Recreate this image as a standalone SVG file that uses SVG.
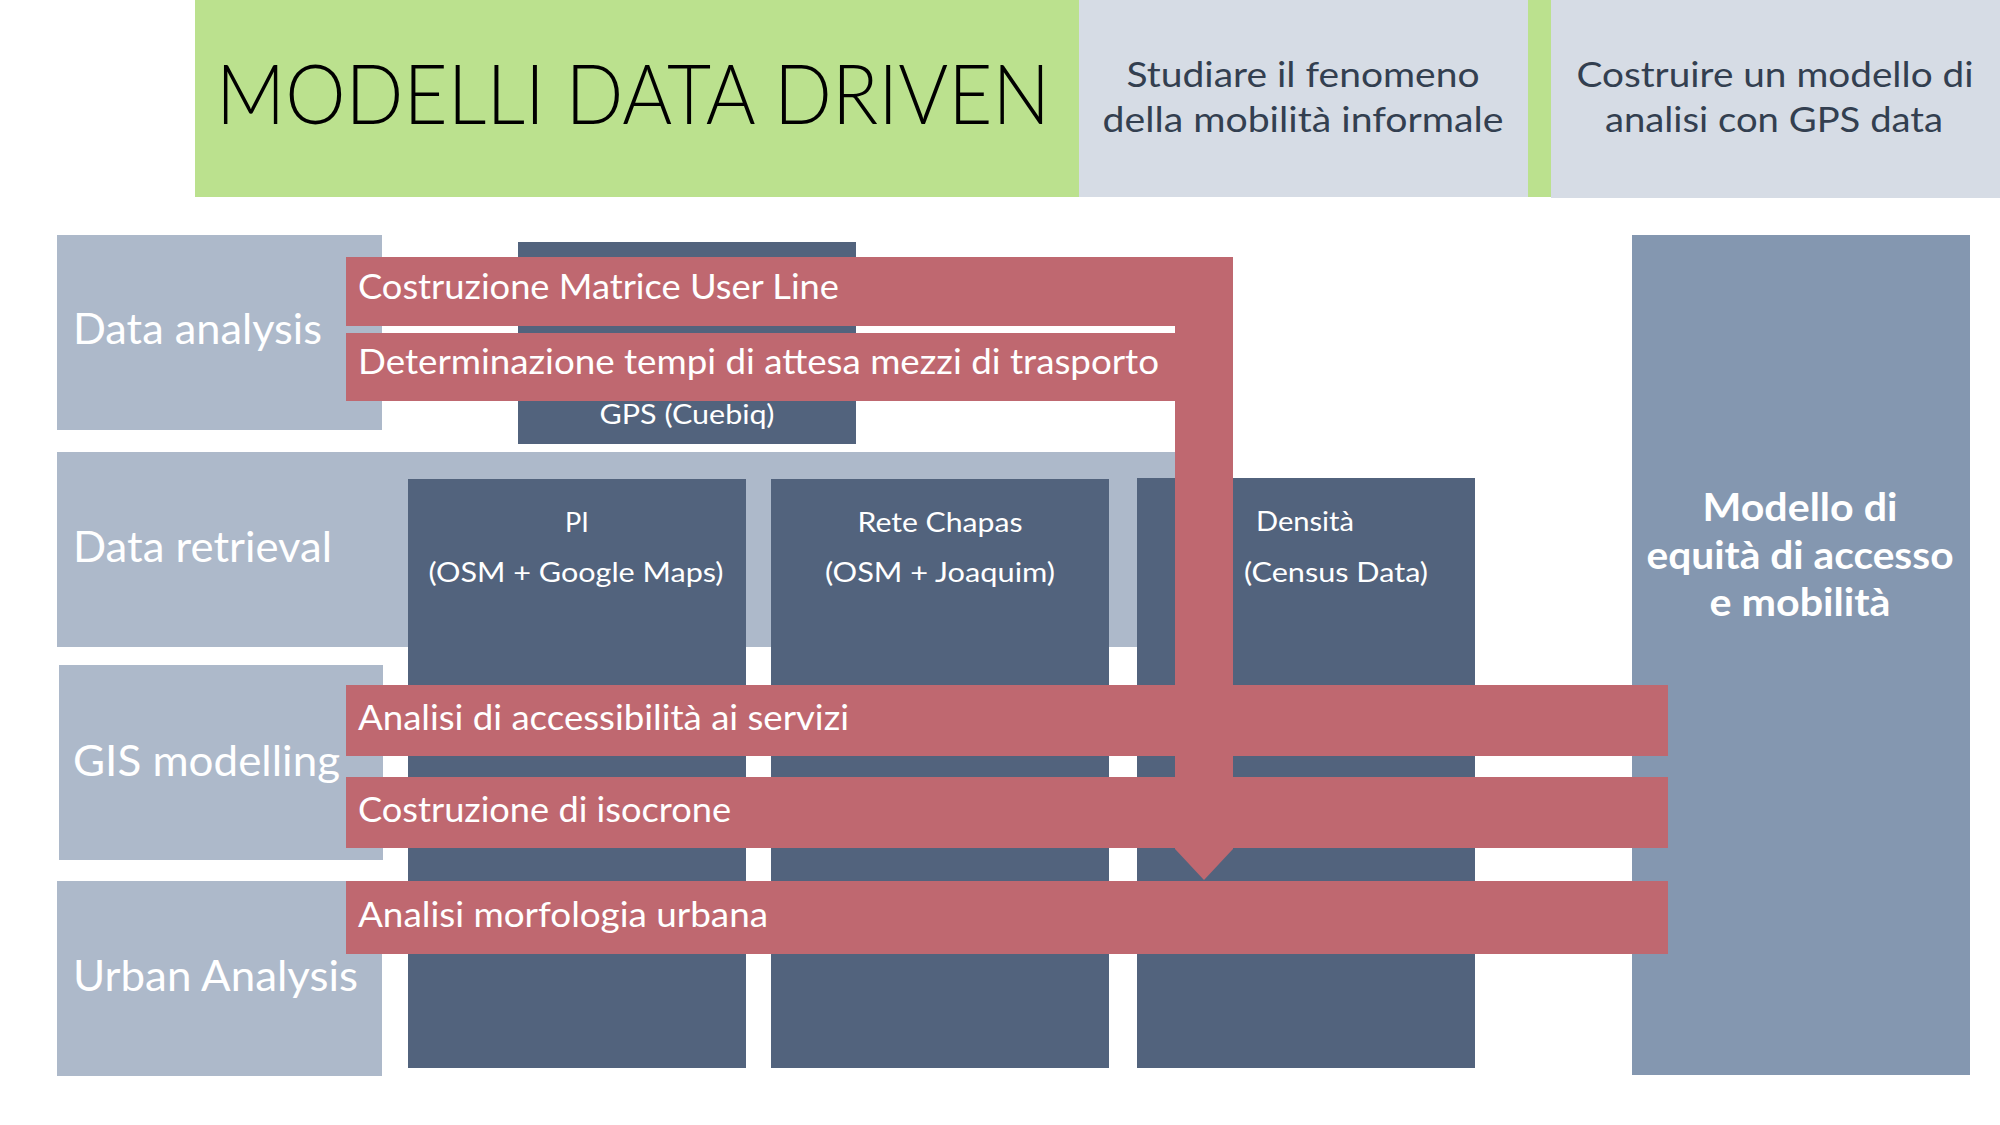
<svg xmlns="http://www.w3.org/2000/svg" width="2000" height="1125" viewBox="0 0 2000 1125">
  <style>
    text { font-family: Lato, "Open Sans", "Liberation Sans", sans-serif; }
    .hdr-green { fill: #BBE18E; }
    .hdr-grey { fill: #D6DCE5; }
    .lane { fill: #ADB9CA; }
    .src { fill: #52637D; }
    .goal { fill: #8497B0; }
    .task { fill: #BF6870; }
    .title { font-size: 82px; font-weight: 300; fill: #000000; }
    .sub { font-size: 34px; fill: #333F50; text-anchor: middle; }
    .lane-t { font-size: 42px; fill: #FFFFFF; }
    .src-t { font-size: 27px; fill: #FFFFFF; text-anchor: middle; }
    .task-t { font-size: 34px; fill: #FFFFFF; }
    .goal-t { font-size: 39px; font-weight: bold; fill: #FFFFFF; text-anchor: middle; }
  </style>

  <rect width="2000" height="1125" fill="#FFFFFF"/>

  <!-- Header band -->
  <g id="header">
    <rect class="hdr-green" x="195" y="0" width="1356" height="197"/>
    <text class="title" x="216" y="124" textLength="834" lengthAdjust="spacingAndGlyphs">MODELLI DATA DRIVEN</text>
  </g>
  <g id="goal-study">
    <rect class="hdr-grey" x="1079" y="0" width="449" height="197"/>
    <text class="sub" x="1303" y="87" textLength="353" lengthAdjust="spacingAndGlyphs">Studiare il fenomeno</text>
    <text class="sub" x="1303" y="132" textLength="401" lengthAdjust="spacingAndGlyphs">della mobilità informale</text>
  </g>
  <g id="goal-build">
    <rect class="hdr-grey" x="1551" y="0" width="449" height="198"/>
    <text class="sub" x="1775" y="87" textLength="397" lengthAdjust="spacingAndGlyphs">Costruire un modello di</text>
    <text class="sub" x="1774" y="132" textLength="338" lengthAdjust="spacingAndGlyphs">analisi con GPS data</text>
  </g>

  <!-- Row labels -->
  <g id="lane-data-analysis">
    <rect class="lane" x="57" y="235" width="325" height="195"/>
    <text class="lane-t" x="73" y="344" textLength="249" lengthAdjust="spacingAndGlyphs">Data analysis</text>
  </g>
  <g id="lane-data-retrieval">
    <rect class="lane" x="57" y="452" width="1130" height="195"/>
    <text class="lane-t" x="73" y="562" textLength="259" lengthAdjust="spacingAndGlyphs">Data retrieval</text>
  </g>
  <g id="lane-gis">
    <rect class="lane" x="59" y="665" width="324" height="195"/>
    <text class="lane-t" x="73" y="776" textLength="267" lengthAdjust="spacingAndGlyphs">GIS modelling</text>
  </g>
  <g id="lane-urban">
    <rect class="lane" x="57" y="881" width="325" height="195"/>
    <text class="lane-t" x="73" y="991" textLength="285" lengthAdjust="spacingAndGlyphs">Urban Analysis</text>
  </g>

  <!-- Data sources -->
  <g id="src-gps">
    <rect class="src" x="518" y="242" width="338" height="202"/>
    <text class="src-t" x="687" y="424" textLength="175" lengthAdjust="spacingAndGlyphs">GPS (Cuebiq)</text>
  </g>
  <g id="src-pi">
    <rect class="src" x="408" y="479" width="338" height="589"/>
    <text class="src-t" x="577" y="532">PI</text>
    <text class="src-t" x="576" y="582" textLength="295" lengthAdjust="spacingAndGlyphs">(OSM + Google Maps)</text>
  </g>
  <g id="src-chapas">
    <rect class="src" x="771" y="479" width="338" height="589"/>
    <text class="src-t" x="940" y="532" textLength="165" lengthAdjust="spacingAndGlyphs">Rete Chapas</text>
    <text class="src-t" x="940" y="582" textLength="230" lengthAdjust="spacingAndGlyphs">(OSM + Joaquim)</text>
  </g>
  <g id="src-density">
    <rect class="src" x="1137" y="478" width="338" height="590"/>
    <text class="src-t" x="1305" y="531" textLength="98" lengthAdjust="spacingAndGlyphs">Densità</text>
    <text class="src-t" x="1336" y="582" textLength="184" lengthAdjust="spacingAndGlyphs">(Census Data)</text>
  </g>

  <!-- Final model -->
  <g id="model-equity">
    <rect class="goal" x="1632" y="235" width="338" height="840"/>
    <text class="goal-t" x="1800" y="521" textLength="195" lengthAdjust="spacingAndGlyphs">Modello di</text>
    <text class="goal-t" x="1800" y="569" textLength="307" lengthAdjust="spacingAndGlyphs">equità di accesso</text>
    <text class="goal-t" x="1800" y="616" textLength="181" lengthAdjust="spacingAndGlyphs">e mobilità</text>
  </g>

  <!-- Connectors: downward flow from the analysis step -->
  <g id="connectors">
    <path class="task" d="M1175,257 H1233 V849 L1204,880 L1175,849 Z"/>
  </g>

  <!-- Processing steps -->
  <g id="task-user-line">
    <rect class="task" x="346" y="257" width="887" height="69"/>
    <text class="task-t" x="358" y="299" textLength="481" lengthAdjust="spacingAndGlyphs">Costruzione Matrice User Line</text>
  </g>
  <g id="task-waiting">
    <rect class="task" x="346" y="333" width="829" height="68"/>
    <text class="task-t" x="358" y="374" textLength="801" lengthAdjust="spacingAndGlyphs">Determinazione tempi di attesa mezzi di trasporto</text>
  </g>
  <g id="task-accessibility">
    <rect class="task" x="346" y="685" width="1322" height="71"/>
    <text class="task-t" x="358" y="730" textLength="491" lengthAdjust="spacingAndGlyphs">Analisi di accessibilità ai servizi</text>
  </g>
  <g id="task-isochrones">
    <rect class="task" x="346" y="777" width="1322" height="71"/>
    <text class="task-t" x="358" y="822" textLength="373" lengthAdjust="spacingAndGlyphs">Costruzione di isocrone</text>
  </g>
  <g id="task-morphology">
    <rect class="task" x="346" y="881" width="1322" height="73"/>
    <text class="task-t" x="358" y="927" textLength="410" lengthAdjust="spacingAndGlyphs">Analisi morfologia urbana</text>
  </g>
</svg>
